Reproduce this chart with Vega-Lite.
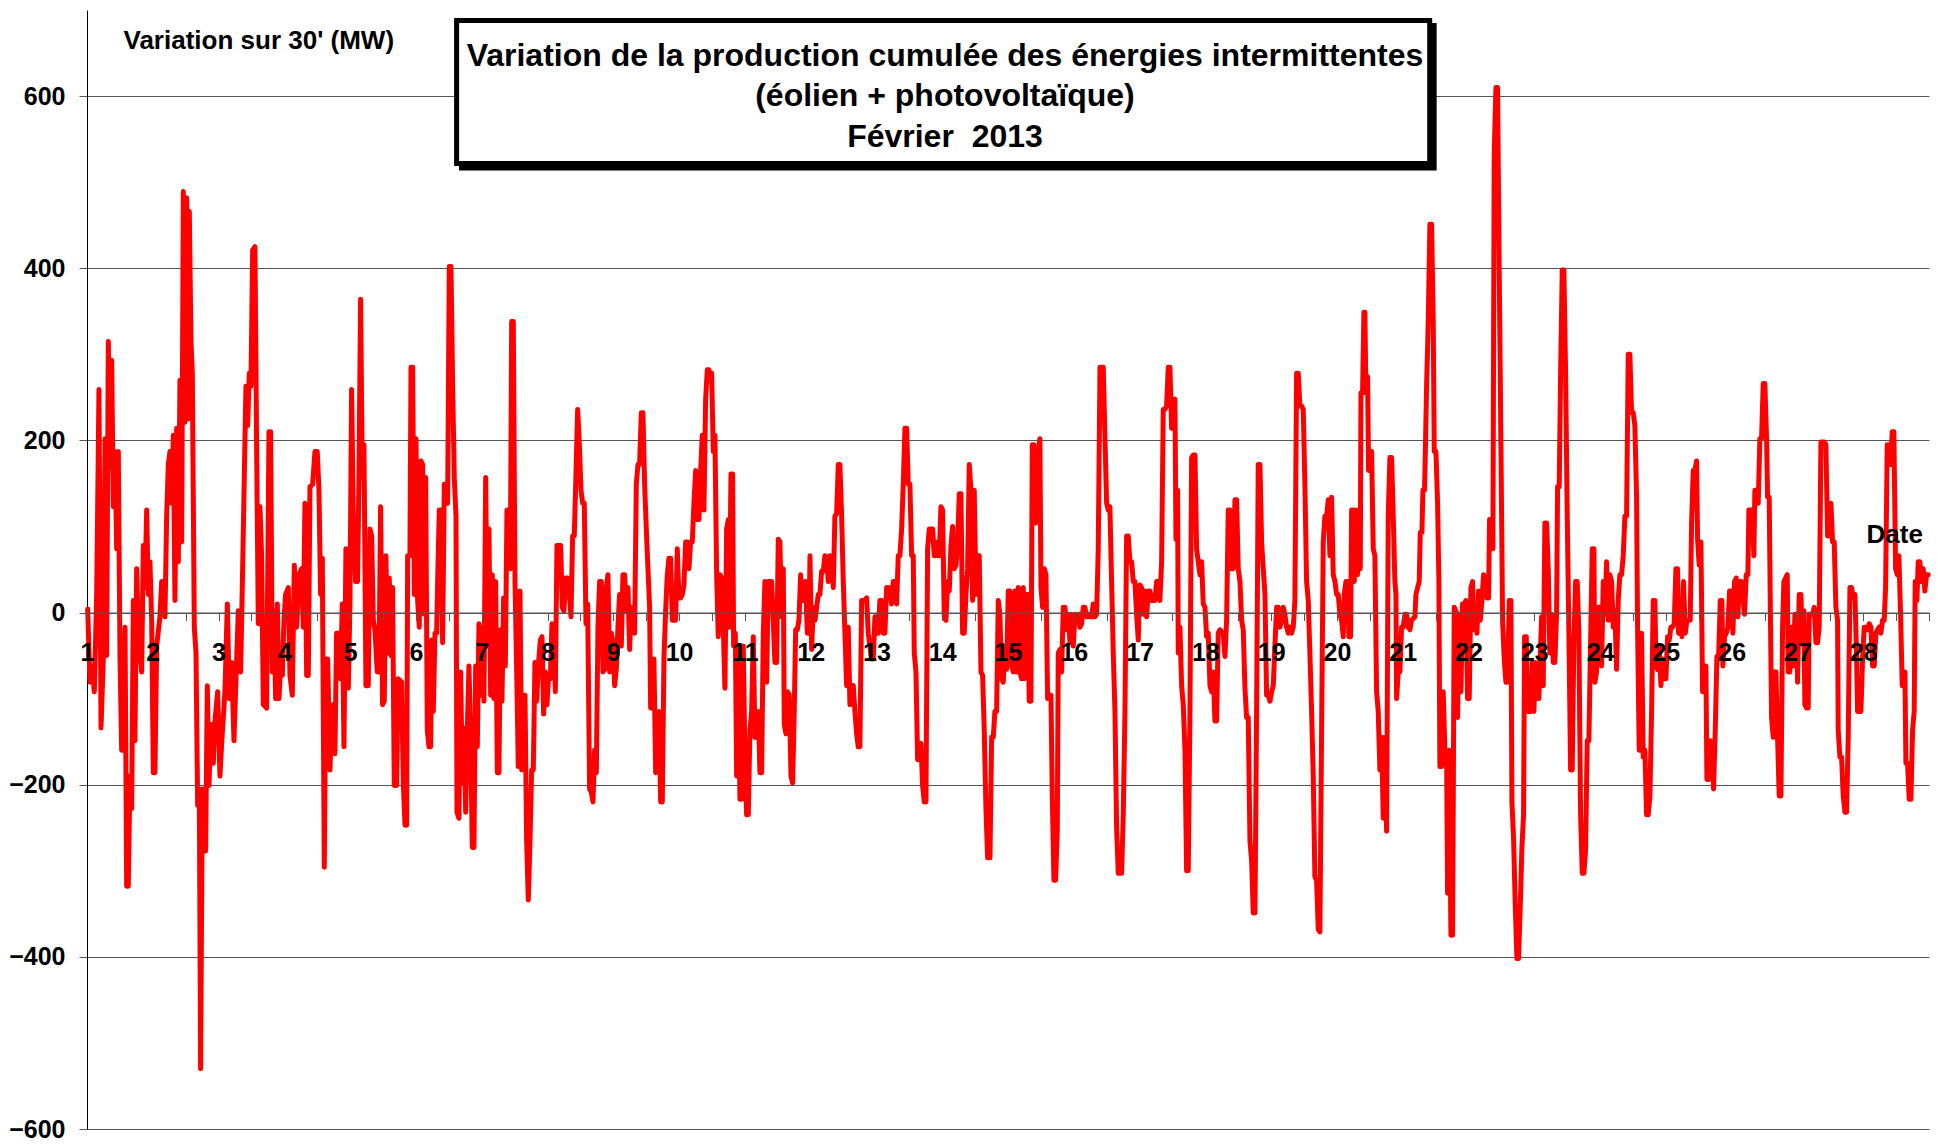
{
"$schema": "https://vega.github.io/schema/vega-lite/v6.json",
"width": 1842, "height": 1119,
"autosize": "none",
"padding": {"left": 87, "top": 10, "right": 8, "bottom": 15},
"background": "white",
"config": {"view": {"stroke": null}, "font": "Liberation Sans"},
"datasets": {
"box": [{"d": 6.618, "d2": 21.41, "v": 687.8, "v2": 521.7}],
"shadow": [{"d": 6.655, "d2": 21.516, "v": 684.9, "v2": 513.5}],
"titre": [
{"d": 14.042, "v": 635.5, "label": "Variation de la production cumulée des énergies intermittentes"},
{"d": 14.042, "v": 588.5, "label": "(éolien + photovoltaïque)"},
{"d": 14.042, "v": 540.8, "label": "Février\u00a0 2013"}
],
"serie": [
{"d":1.010,"v":4},{"d":1.046,"v":-81},{"d":1.081,"v":-62},{"d":1.111,"v":-92},{"d":1.147,"v":21},{"d":1.182,"v":259},{"d":1.213,"v":-134},{"d":1.248,"v":-54},{"d":1.274,"v":202},{"d":1.299,"v":-50},{"d":1.324,"v":315},{"d":1.350,"v":168},{"d":1.375,"v":293},{"d":1.400,"v":123},{"d":1.426,"v":187},{"d":1.451,"v":74},{"d":1.476,"v":187},{"d":1.502,"v":-54},{"d":1.527,"v":-160},{"d":1.552,"v":-160},{"d":1.578,"v":-17},{"d":1.603,"v":-318},{"d":1.628,"v":-318},{"d":1.653,"v":-190},{"d":1.679,"v":-228},{"d":1.704,"v":14},{"d":1.729,"v":-149},{"d":1.755,"v":51},{"d":1.780,"v":-24},{"d":1.831,"v":-69},{"d":1.856,"v":78},{"d":1.881,"v":29},{"d":1.907,"v":119},{"d":1.932,"v":21},{"d":1.957,"v":59},{"d":1.983,"v":-9},{"d":2.008,"v":-186},{"d":2.033,"v":-186},{"d":2.059,"v":-39},{"d":2.109,"v":-5},{"d":2.135,"v":36},{"d":2.185,"v":-5},{"d":2.211,"v":112},{"d":2.236,"v":172},{"d":2.261,"v":187},{"d":2.287,"v":127},{"d":2.312,"v":206},{"d":2.337,"v":14},{"d":2.363,"v":214},{"d":2.388,"v":59},{"d":2.413,"v":270},{"d":2.439,"v":82},{"d":2.464,"v":489},{"d":2.489,"v":221},{"d":2.515,"v":482},{"d":2.540,"v":225},{"d":2.555,"v":466},{"d":2.581,"v":315},{"d":2.601,"v":278},{"d":2.631,"v":-17},{"d":2.657,"v":-47},{"d":2.682,"v":-224},{"d":2.707,"v":-205},{"d":2.727,"v":-530},{"d":2.753,"v":-205},{"d":2.778,"v":-213},{"d":2.803,"v":-277},{"d":2.829,"v":-85},{"d":2.854,"v":-201},{"d":2.884,"v":-130},{"d":2.920,"v":-175},{"d":2.945,"v":-126},{"d":2.986,"v":-92},{"d":3.021,"v":-190},{"d":3.047,"v":-152},{"d":3.097,"v":-92},{"d":3.133,"v":10},{"d":3.163,"v":-100},{"d":3.199,"v":-58},{"d":3.234,"v":-149},{"d":3.275,"v":-54},{"d":3.300,"v":2},{"d":3.335,"v":-69},{"d":3.366,"v":51},{"d":3.391,"v":157},{"d":3.416,"v":263},{"d":3.442,"v":217},{"d":3.467,"v":278},{"d":3.492,"v":263},{"d":3.518,"v":421},{"d":3.553,"v":425},{"d":3.579,"v":187},{"d":3.604,"v":-13},{"d":3.629,"v":123},{"d":3.654,"v":66},{"d":3.680,"v":-107},{"d":3.730,"v":-111},{"d":3.766,"v":210},{"d":3.791,"v":210},{"d":3.817,"v":-69},{"d":3.842,"v":2},{"d":3.867,"v":-100},{"d":3.893,"v":10},{"d":3.918,"v":-100},{"d":3.943,"v":-62},{"d":3.969,"v":-73},{"d":3.994,"v":-9},{"d":4.019,"v":21},{"d":4.060,"v":29},{"d":4.085,"v":-73},{"d":4.121,"v":-96},{"d":4.151,"v":55},{"d":4.187,"v":-17},{"d":4.222,"v":44},{"d":4.262,"v":51},{"d":4.288,"v":-17},{"d":4.313,"v":127},{"d":4.339,"v":-73},{"d":4.364,"v":-73},{"d":4.389,"v":146},{"d":4.430,"v":149},{"d":4.465,"v":187},{"d":4.500,"v":187},{"d":4.526,"v":142},{"d":4.551,"v":21},{"d":4.577,"v":63},{"d":4.607,"v":-296},{"d":4.632,"v":-54},{"d":4.658,"v":-54},{"d":4.693,"v":-183},{"d":4.729,"v":-107},{"d":4.769,"v":-164},{"d":4.794,"v":-24},{"d":4.830,"v":-24},{"d":4.855,"v":-77},{"d":4.880,"v":10},{"d":4.906,"v":-156},{"d":4.936,"v":74},{"d":4.972,"v":-88},{"d":4.997,"v":10},{"d":5.022,"v":259},{"d":5.048,"v":112},{"d":5.083,"v":36},{"d":5.113,"v":36},{"d":5.134,"v":157},{"d":5.159,"v":364},{"d":5.185,"v":157},{"d":5.210,"v":195},{"d":5.240,"v":-85},{"d":5.276,"v":-85},{"d":5.301,"v":97},{"d":5.327,"v":89},{"d":5.352,"v":-9},{"d":5.377,"v":-20},{"d":5.412,"v":-69},{"d":5.438,"v":-69},{"d":5.463,"v":123},{"d":5.493,"v":-107},{"d":5.519,"v":-103},{"d":5.544,"v":66},{"d":5.569,"v":-47},{"d":5.595,"v":40},{"d":5.620,"v":-50},{"d":5.645,"v":29},{"d":5.671,"v":-201},{"d":5.706,"v":-201},{"d":5.731,"v":-77},
{"d":5.783,"v":-81},{"d":5.808,"v":-198},{"d":5.834,"v":-247},{"d":5.859,"v":-247},{"d":5.874,"v":66},{"d":5.909,"v":66},{"d":5.925,"v":285},{"d":5.950,"v":285},{"d":5.975,"v":21},{"d":6.001,"v":202},{"d":6.026,"v":14},{"d":6.051,"v":-17},{"d":6.077,"v":176},{"d":6.102,"v":172},{"d":6.127,"v":-2},{"d":6.148,"v":157},{"d":6.173,"v":-137},{"d":6.198,"v":-156},{"d":6.224,"v":-156},{"d":6.239,"v":-32},{"d":6.264,"v":-115},{"d":6.290,"v":-24},{"d":6.315,"v":-24},{"d":6.330,"v":36},{"d":6.355,"v":119},{"d":6.381,"v":119},{"d":6.406,"v":-35},{"d":6.431,"v":149},{"d":6.457,"v":149},{"d":6.482,"v":127},{"d":6.507,"v":402},{"d":6.533,"v":402},{"d":6.558,"v":263},{"d":6.583,"v":157},{"d":6.609,"v":112},{"d":6.624,"v":-232},{"d":6.654,"v":-239},{"d":6.680,"v":-69},{"d":6.705,"v":-198},{"d":6.730,"v":-134},{"d":6.756,"v":-232},{"d":6.781,"v":-137},{"d":6.806,"v":-62},{"d":6.832,"v":-145},{"d":6.857,"v":-273},{"d":6.882,"v":-273},{"d":6.908,"v":-62},{"d":6.933,"v":-156},{"d":6.958,"v":-13},{"d":6.984,"v":-96},{"d":7.009,"v":-17},{"d":7.034,"v":-103},{"d":7.060,"v":157},{"d":7.085,"v":-39},{"d":7.110,"v":97},{"d":7.136,"v":-96},{"d":7.161,"v":44},{"d":7.186,"v":-100},{"d":7.212,"v":36},{"d":7.237,"v":-186},{"d":7.262,"v":-186},{"d":7.283,"v":-20},{"d":7.308,"v":-103},{"d":7.333,"v":17},{"d":7.359,"v":-62},{"d":7.384,"v":119},{"d":7.409,"v":119},{"d":7.435,"v":51},{"d":7.455,"v":338},{"d":7.480,"v":338},{"d":7.506,"v":36},{"d":7.531,"v":-66},{"d":7.556,"v":-179},{"d":7.582,"v":25},{"d":7.607,"v":-183},{"d":7.632,"v":-100},{"d":7.658,"v":-96},{"d":7.683,"v":-266},{"d":7.708,"v":-334},{"d":7.734,"v":-266},{"d":7.759,"v":-183},{"d":7.784,"v":-183},{"d":7.809,"v":-58},{"d":7.835,"v":-103},{"d":7.860,"v":-62},{"d":7.891,"v":-32},{"d":7.916,"v":-28},{"d":7.941,"v":-118},{"d":7.967,"v":-69},{"d":7.992,"v":-107},{"d":8.017,"v":-73},{"d":8.043,"v":-77},{"d":8.068,"v":-13},{"d":8.093,"v":-17},{"d":8.119,"v":-92},{"d":8.144,"v":78},{"d":8.174,"v":78},{"d":8.200,"v":78},{"d":8.225,"v":6},{"d":8.250,"v":2},{"d":8.276,"v":40},{"d":8.301,"v":40},{"d":8.326,"v":29},{"d":8.357,"v":-5},{"d":8.382,"v":89},{"d":8.407,"v":89},{"d":8.433,"v":161},{"d":8.458,"v":236},{"d":8.483,"v":198},{"d":8.509,"v":142},{"d":8.534,"v":127},{"d":8.559,"v":127},{"d":8.585,"v":-13},{"d":8.610,"v":10},{"d":8.640,"v":-205},{"d":8.666,"v":-209},{"d":8.691,"v":-220},{"d":8.716,"v":-160},{"d":8.742,"v":-186},{"d":8.767,"v":-17},{"d":8.792,"v":36},{"d":8.818,"v":36},{"d":8.843,"v":-69},{"d":8.868,"v":-66},{"d":8.894,"v":29},{"d":8.919,"v":44},{"d":8.944,"v":-69},{"d":8.970,"v":-24},{"d":8.995,"v":-35},{"d":9.020,"v":-85},{"d":9.046,"v":-66},{"d":9.071,"v":-17},{"d":9.096,"v":21},{"d":9.122,"v":-39},{"d":9.147,"v":44},{"d":9.172,"v":44},{"d":9.198,"v":2},{"d":9.223,"v":29},{"d":9.248,"v":-43},{"d":9.274,"v":6},{"d":9.299,"v":6},{"d":9.324,"v":-24},{"d":9.350,"v":149},{"d":9.375,"v":172},{"d":9.400,"v":172},{"d":9.426,"v":232},{"d":9.451,"v":232},{"d":9.476,"v":149},{"d":9.502,"v":97},{"d":9.527,"v":51},{"d":9.552,"v":6},{"d":9.568,"v":-111},{"d":9.593,"v":-111},{"d":9.618,"v":-54},{"d":9.644,"v":-186},{"d":9.669,"v":-118},{"d":9.694,"v":-115},{"d":9.720,"v":-220},{"d":9.745,"v":-220},{"d":9.770,"v":-54},{"d":9.796,"v":2},{"d":9.821,"v":44},{"d":9.846,"v":63},{"d":9.872,"v":63},{"d":9.897,"v":-9},{"d":9.922,"v":21},{"d":9.948,"v":-9},{"d":9.973,"v":74},{"d":9.998,"v":17},{"d":10.024,"v":17},{"d":10.049,"v":21},{"d":10.074,"v":32},{"d":10.100,"v":82},{"d":10.125,"v":82},{"d":10.150,"v":51},{"d":10.176,"v":82},{"d":10.201,"v":82},{"d":10.226,"v":127},{"d":10.252,"v":165},{"d":10.277,"v":108},{"d":10.302,"v":108},{"d":10.328,"v":165},{"d":10.353,"v":206},{"d":10.378,"v":119},{"d":10.404,"v":248},{"d":10.429,"v":282},{"d":10.454,"v":282},
{"d":10.469,"v":270},{"d":10.495,"v":278},{"d":10.520,"v":187},{"d":10.545,"v":206},{"d":10.571,"v":44},{"d":10.596,"v":-28},{"d":10.621,"v":44},{"d":10.647,"v":40},{"d":10.672,"v":-17},{"d":10.697,"v":-88},{"d":10.723,"v":97},{"d":10.748,"v":108},{"d":10.763,"v":-17},{"d":10.789,"v":161},{"d":10.814,"v":161},{"d":10.829,"v":-39},{"d":10.855,"v":-24},{"d":10.875,"v":-190},{"d":10.900,"v":-58},{"d":10.925,"v":-217},{"d":10.951,"v":-217},{"d":10.976,"v":-39},{"d":11.001,"v":-168},{"d":11.027,"v":-235},{"d":11.052,"v":-235},{"d":11.077,"v":-137},{"d":11.103,"v":-115},{"d":11.128,"v":-28},{"d":11.153,"v":-145},{"d":11.179,"v":-145},{"d":11.204,"v":-115},{"d":11.229,"v":-186},{"d":11.255,"v":-186},{"d":11.280,"v":-24},{"d":11.305,"v":36},{"d":11.331,"v":-81},{"d":11.356,"v":36},{"d":11.407,"v":36},{"d":11.457,"v":-58},{"d":11.483,"v":-58},{"d":11.508,"v":85},{"d":11.533,"v":82},{"d":11.559,"v":-5},{"d":11.584,"v":51},{"d":11.599,"v":-130},{"d":11.625,"v":-141},{"d":11.650,"v":-92},{"d":11.675,"v":-96},{"d":11.701,"v":-190},{"d":11.726,"v":-198},{"d":11.751,"v":-115},{"d":11.772,"v":-20},{"d":11.797,"v":-20},{"d":11.822,"v":-9},{"d":11.848,"v":44},{"d":11.873,"v":14},{"d":11.898,"v":14},{"d":11.924,"v":36},{"d":11.949,"v":-24},{"d":11.974,"v":-24},{"d":11.990,"v":66},{"d":12.015,"v":-43},{"d":12.040,"v":6},{"d":12.066,"v":-9},{"d":12.091,"v":6},{"d":12.116,"v":21},{"d":12.141,"v":21},{"d":12.167,"v":48},{"d":12.192,"v":48},{"d":12.217,"v":66},{"d":12.243,"v":63},{"d":12.268,"v":36},{"d":12.293,"v":66},{"d":12.319,"v":63},{"d":12.344,"v":29},{"d":12.369,"v":112},{"d":12.395,"v":115},{"d":12.420,"v":172},{"d":12.445,"v":172},{"d":12.471,"v":112},{"d":12.496,"v":36},{"d":12.521,"v":-24},{"d":12.547,"v":-85},{"d":12.572,"v":-17},{"d":12.597,"v":-107},{"d":12.623,"v":-88},{"d":12.648,"v":-85},{"d":12.673,"v":-115},{"d":12.699,"v":-141},{"d":12.724,"v":-156},{"d":12.749,"v":-156},{"d":12.775,"v":14},{"d":12.800,"v":14},{"d":12.825,"v":14},{"d":12.851,"v":17},{"d":12.876,"v":-24},{"d":12.901,"v":-39},{"d":12.927,"v":-54},{"d":12.952,"v":-54},{"d":12.977,"v":-5},{"d":13.003,"v":-5},{"d":13.028,"v":-24},{"d":13.053,"v":14},{"d":13.079,"v":14},{"d":13.104,"v":-24},{"d":13.129,"v":-24},{"d":13.155,"v":29},{"d":13.180,"v":21},{"d":13.205,"v":29},{"d":13.231,"v":10},{"d":13.256,"v":36},{"d":13.281,"v":36},{"d":13.307,"v":10},{"d":13.332,"v":66},{"d":13.357,"v":66},{"d":13.383,"v":97},{"d":13.408,"v":149},{"d":13.433,"v":214},{"d":13.459,"v":214},{"d":13.484,"v":149},{"d":13.509,"v":149},{"d":13.535,"v":66},{"d":13.560,"v":66},{"d":13.575,"v":-47},{"d":13.601,"v":-69},{"d":13.626,"v":-171},{"d":13.651,"v":-171},{"d":13.677,"v":-152},{"d":13.702,"v":-201},{"d":13.727,"v":-220},{"d":13.753,"v":-220},{"d":13.778,"v":74},{"d":13.803,"v":97},{"d":13.854,"v":97},{"d":13.879,"v":66},{"d":13.905,"v":66},{"d":13.930,"v":82},{"d":13.955,"v":66},{"d":13.981,"v":123},{"d":14.006,"v":119},{"d":14.031,"v":-5},{"d":14.057,"v":-9},{"d":14.082,"v":36},{"d":14.107,"v":25},{"d":14.133,"v":78},{"d":14.158,"v":100},{"d":14.183,"v":51},{"d":14.209,"v":55},{"d":14.234,"v":82},{"d":14.259,"v":138},{"d":14.285,"v":138},{"d":14.310,"v":-24},{"d":14.335,"v":-24},{"d":14.361,"v":21},{"d":14.386,"v":51},{"d":14.411,"v":172},{"d":14.437,"v":142},{"d":14.462,"v":14},{"d":14.487,"v":142},{"d":14.513,"v":21},{"d":14.538,"v":66},{"d":14.563,"v":66},{"d":14.589,"v":-69},{"d":14.614,"v":-73},{"d":14.639,"v":-137},{"d":14.665,"v":-228},{"d":14.690,"v":-285},{"d":14.726,"v":-285},{"d":14.751,"v":-145},{"d":14.776,"v":-145},{"d":14.801,"v":-115},{"d":14.827,"v":-115},{"d":14.852,"v":14},{"d":14.877,"v":-2},{"d":14.903,"v":-77},{"d":14.928,"v":-81},{"d":14.953,"v":-39},{"d":14.979,"v":-66},{"d":15.004,"v":25},{"d":15.029,"v":25},{"d":15.055,"v":-62},{"d":15.080,"v":-69},{"d":15.105,"v":25},{"d":15.131,"v":-69},{"d":15.156,"v":29},
{"d":15.181,"v":-69},{"d":15.207,"v":-77},{"d":15.232,"v":29},{"d":15.247,"v":-77},{"d":15.273,"v":21},{"d":15.298,"v":21},{"d":15.323,"v":-103},{"d":15.349,"v":-103},{"d":15.369,"v":195},{"d":15.394,"v":195},{"d":15.420,"v":104},{"d":15.435,"v":187},{"d":15.460,"v":187},{"d":15.485,"v":202},{"d":15.501,"v":29},{"d":15.526,"v":6},{"d":15.551,"v":51},{"d":15.577,"v":44},{"d":15.602,"v":-100},{"d":15.627,"v":-100},{"d":15.653,"v":-96},{"d":15.673,"v":-213},{"d":15.698,"v":-311},{"d":15.724,"v":-311},{"d":15.749,"v":-254},{"d":15.764,"v":-47},{"d":15.789,"v":-43},{"d":15.815,"v":-69},{"d":15.840,"v":6},{"d":15.866,"v":6},{"d":15.891,"v":-20},{"d":15.916,"v":-2},{"d":15.942,"v":-35},{"d":15.967,"v":-2},{"d":15.992,"v":-39},{"d":16.018,"v":-2},{"d":16.043,"v":-9},{"d":16.068,"v":-2},{"d":16.093,"v":-17},{"d":16.119,"v":-13},{"d":16.144,"v":6},{"d":16.169,"v":6},{"d":16.195,"v":-5},{"d":16.220,"v":-5},{"d":16.245,"v":-2},{"d":16.271,"v":-5},{"d":16.296,"v":10},{"d":16.321,"v":-5},{"d":16.347,"v":-2},{"d":16.372,"v":74},{"d":16.398,"v":285},{"d":16.448,"v":285},{"d":16.474,"v":202},{"d":16.499,"v":127},{"d":16.524,"v":119},{"d":16.549,"v":123},{"d":16.575,"v":36},{"d":16.600,"v":-47},{"d":16.626,"v":-115},{"d":16.651,"v":-251},{"d":16.676,"v":-303},{"d":16.727,"v":-303},{"d":16.752,"v":-235},{"d":16.778,"v":-115},{"d":16.803,"v":89},{"d":16.828,"v":89},{"d":16.853,"v":59},{"d":16.879,"v":59},{"d":16.904,"v":36},{"d":16.929,"v":36},{"d":16.955,"v":-2},{"d":16.980,"v":-32},{"d":17.005,"v":32},{"d":17.031,"v":29},{"d":17.056,"v":-2},{"d":17.081,"v":25},{"d":17.107,"v":-5},{"d":17.132,"v":25},{"d":17.157,"v":25},{"d":17.183,"v":14},{"d":17.233,"v":14},{"d":17.259,"v":36},{"d":17.284,"v":36},{"d":17.309,"v":14},{"d":17.335,"v":59},{"d":17.360,"v":236},{"d":17.385,"v":236},{"d":17.411,"v":240},{"d":17.436,"v":285},{"d":17.462,"v":285},{"d":17.487,"v":214},{"d":17.512,"v":240},{"d":17.538,"v":248},{"d":17.553,"v":85},{"d":17.578,"v":142},{"d":17.588,"v":-47},{"d":17.614,"v":-17},{"d":17.639,"v":-85},{"d":17.664,"v":-107},{"d":17.690,"v":-160},{"d":17.715,"v":-300},{"d":17.740,"v":-300},{"d":17.766,"v":-115},{"d":17.791,"v":180},{"d":17.816,"v":183},{"d":17.842,"v":183},{"d":17.867,"v":74},{"d":17.892,"v":59},{"d":17.918,"v":44},{"d":17.943,"v":59},{"d":17.968,"v":10},{"d":17.994,"v":6},{"d":18.019,"v":-28},{"d":18.044,"v":-24},{"d":18.070,"v":-85},{"d":18.095,"v":-92},{"d":18.120,"v":-69},{"d":18.145,"v":-126},{"d":18.171,"v":-126},{"d":18.196,"v":-24},{"d":18.221,"v":-20},{"d":18.272,"v":-24},{"d":18.298,"v":-51},{"d":18.323,"v":-9},{"d":18.348,"v":119},{"d":18.374,"v":119},{"d":18.399,"v":51},{"d":18.424,"v":51},{"d":18.450,"v":131},{"d":18.475,"v":131},{"d":18.500,"v":51},{"d":18.526,"v":36},{"d":18.551,"v":-9},{"d":18.576,"v":-20},{"d":18.602,"v":-88},{"d":18.627,"v":-122},{"d":18.652,"v":-122},{"d":18.678,"v":-266},{"d":18.703,"v":-288},{"d":18.728,"v":-349},{"d":18.754,"v":-349},{"d":18.779,"v":-115},{"d":18.804,"v":172},{"d":18.830,"v":172},{"d":18.855,"v":82},{"d":18.880,"v":51},{"d":18.906,"v":21},{"d":18.931,"v":-96},{"d":18.956,"v":-96},{"d":18.982,"v":-103},{"d":19.007,"v":-92},{"d":19.032,"v":-85},{"d":19.057,"v":-39},{"d":19.083,"v":6},{"d":19.108,"v":6},{"d":19.133,"v":-17},{"d":19.159,"v":-9},{"d":19.184,"v":6},{"d":19.209,"v":-2},{"d":19.235,"v":-17},{"d":19.260,"v":-24},{"d":19.286,"v":-17},{"d":19.311,"v":-24},{"d":19.336,"v":-17},{"d":19.361,"v":14},{"d":19.387,"v":278},{"d":19.412,"v":278},{"d":19.437,"v":240},{"d":19.463,"v":240},{"d":19.488,"v":236},{"d":19.513,"v":149},{"d":19.539,"v":36},{"d":19.564,"v":14},{"d":19.589,"v":-47},{"d":19.615,"v":-115},{"d":19.640,"v":-190},{"d":19.665,"v":-307},{"d":19.691,"v":-311},{"d":19.716,"v":-368},{"d":19.741,"v":-371},{"d":19.767,"v":-137},{"d":19.792,"v":82},{"d":19.817,"v":112},{"d":19.843,"v":112},{"d":19.868,"v":131},{"d":19.893,"v":66},
{"d":19.919,"v":134},{"d":19.944,"v":44},{"d":19.970,"v":36},{"d":19.995,"v":21},{"d":20.020,"v":21},{"d":20.045,"v":-2},{"d":20.071,"v":-9},{"d":20.096,"v":-28},{"d":20.111,"v":21},{"d":20.137,"v":36},{"d":20.162,"v":36},{"d":20.182,"v":-28},{"d":20.208,"v":-28},{"d":20.223,"v":119},{"d":20.248,"v":119},{"d":20.263,"v":36},{"d":20.289,"v":119},{"d":20.314,"v":44},{"d":20.339,"v":119},{"d":20.355,"v":51},{"d":20.365,"v":255},{"d":20.390,"v":255},{"d":20.410,"v":349},{"d":20.425,"v":349},{"d":20.441,"v":255},{"d":20.466,"v":274},{"d":20.481,"v":165},{"d":20.501,"v":187},{"d":20.527,"v":187},{"d":20.552,"v":74},{"d":20.577,"v":66},{"d":20.603,"v":-92},{"d":20.628,"v":-115},{"d":20.653,"v":-183},{"d":20.679,"v":-145},{"d":20.704,"v":-239},{"d":20.729,"v":-145},{"d":20.755,"v":-254},{"d":20.780,"v":112},{"d":20.805,"v":180},{"d":20.831,"v":180},{"d":20.856,"v":112},{"d":20.881,"v":36},{"d":20.897,"v":21},{"d":20.907,"v":-100},{"d":20.932,"v":-69},{"d":20.957,"v":-69},{"d":20.983,"v":-17},{"d":21.008,"v":-17},{"d":21.033,"v":-2},{"d":21.059,"v":-2},{"d":21.084,"v":-17},{"d":21.109,"v":-20},{"d":21.135,"v":-9},{"d":21.185,"v":-5},{"d":21.201,"v":21},{"d":21.226,"v":29},{"d":21.251,"v":36},{"d":21.267,"v":93},{"d":21.292,"v":93},{"d":21.307,"v":142},{"d":21.332,"v":142},{"d":21.348,"v":202},{"d":21.363,"v":263},{"d":21.388,"v":338},{"d":21.413,"v":451},{"d":21.439,"v":451},{"d":21.464,"v":338},{"d":21.479,"v":187},{"d":21.505,"v":187},{"d":21.530,"v":127},{"d":21.550,"v":36},{"d":21.565,"v":-179},{"d":21.591,"v":-179},{"d":21.616,"v":-92},{"d":21.641,"v":-160},{"d":21.667,"v":-164},{"d":21.682,"v":-326},{"d":21.707,"v":-160},{"d":21.733,"v":-375},{"d":21.758,"v":-375},{"d":21.783,"v":6},{"d":21.809,"v":2},{"d":21.834,"v":-122},{"d":21.859,"v":-2},{"d":21.885,"v":-92},{"d":21.910,"v":10},{"d":21.935,"v":10},{"d":21.961,"v":14},{"d":21.986,"v":-100},{"d":22.011,"v":-100},{"d":22.037,"v":29},{"d":22.062,"v":36},{"d":22.077,"v":-20},{"d":22.103,"v":2},{"d":22.128,"v":-24},{"d":22.153,"v":25},{"d":22.179,"v":-9},{"d":22.204,"v":14},{"d":22.229,"v":44},{"d":22.254,"v":40},{"d":22.280,"v":17},{"d":22.305,"v":17},{"d":22.320,"v":108},{"d":22.346,"v":74},{"d":22.371,"v":74},{"d":22.391,"v":534},{"d":22.417,"v":610},{"d":22.442,"v":610},{"d":22.467,"v":398},{"d":22.493,"v":195},{"d":22.518,"v":-9},{"d":22.543,"v":-54},{"d":22.569,"v":-81},{"d":22.594,"v":-81},{"d":22.619,"v":14},{"d":22.645,"v":14},{"d":22.660,"v":-220},{"d":22.685,"v":-262},{"d":22.711,"v":-341},{"d":22.736,"v":-402},{"d":22.761,"v":-402},{"d":22.787,"v":-341},{"d":22.812,"v":-273},{"d":22.837,"v":-235},{"d":22.852,"v":-28},{"d":22.878,"v":-28},{"d":22.893,"v":-115},{"d":22.944,"v":-115},{"d":22.969,"v":-58},{"d":22.994,"v":-115},{"d":23.020,"v":-58},{"d":23.045,"v":-100},{"d":23.070,"v":-100},{"d":23.085,"v":-66},{"d":23.111,"v":-5},{"d":23.136,"v":-85},{"d":23.161,"v":104},{"d":23.187,"v":104},{"d":23.212,"v":51},{"d":23.237,"v":-47},{"d":23.263,"v":-2},{"d":23.288,"v":-58},{"d":23.313,"v":-58},{"d":23.339,"v":-2},{"d":23.354,"v":146},{"d":23.379,"v":146},{"d":23.400,"v":278},{"d":23.425,"v":398},{"d":23.450,"v":398},{"d":23.476,"v":278},{"d":23.501,"v":112},{"d":23.526,"v":-24},{"d":23.552,"v":-183},{"d":23.577,"v":-183},{"d":23.602,"v":-32},{"d":23.628,"v":36},{"d":23.653,"v":36},{"d":23.678,"v":-24},{"d":23.704,"v":-235},{"d":23.729,"v":-303},{"d":23.754,"v":-303},{"d":23.779,"v":-277},{"d":23.805,"v":-149},{"d":23.830,"v":-149},{"d":23.855,"v":-39},{"d":23.881,"v":74},{"d":23.906,"v":74},{"d":23.921,"v":-81},{"d":23.947,"v":-69},{"d":23.972,"v":6},{"d":23.997,"v":6},{"d":24.023,"v":-62},{"d":24.048,"v":36},{"d":24.073,"v":-2},{"d":24.099,"v":59},{"d":24.124,"v":-9},{"d":24.149,"v":44},{"d":24.175,"v":36},{"d":24.200,"v":-17},{"d":24.225,"v":2},{"d":24.251,"v":-66},{"d":24.276,"v":14},{"d":24.301,"v":44},{"d":24.327,"v":44},{"d":24.352,"v":66},{"d":24.377,"v":112},{"d":24.403,"v":112},{"d":24.428,"v":300},{"d":24.453,"v":300},{"d":24.479,"v":232},{"d":24.504,"v":232},{"d":24.529,"v":217},{"d":24.555,"v":134},{"d":24.570,"v":-17},{"d":24.595,"v":-160},
{"d":24.605,"v":-160},{"d":24.631,"v":-24},{"d":24.656,"v":-168},{"d":24.681,"v":-160},{"d":24.707,"v":-235},{"d":24.732,"v":-235},{"d":24.758,"v":-213},{"d":24.783,"v":-115},{"d":24.808,"v":14},{"d":24.834,"v":14},{"d":24.849,"v":-62},{"d":24.874,"v":-66},{"d":24.899,"v":-39},{"d":24.925,"v":-85},{"d":24.950,"v":-54},{"d":24.975,"v":-77},{"d":25.001,"v":-77},{"d":25.026,"v":-28},{"d":25.051,"v":-32},{"d":25.077,"v":-17},{"d":25.102,"v":-17},{"d":25.127,"v":-13},{"d":25.153,"v":51},{"d":25.178,"v":51},{"d":25.193,"v":-24},{"d":25.219,"v":-2},{"d":25.244,"v":-28},{"d":25.269,"v":36},{"d":25.295,"v":-24},{"d":25.320,"v":-9},{"d":25.371,"v":-9},{"d":25.391,"v":104},{"d":25.416,"v":165},{"d":25.441,"v":165},{"d":25.467,"v":176},{"d":25.482,"v":85},{"d":25.507,"v":55},{"d":25.533,"v":82},{"d":25.558,"v":-92},{"d":25.583,"v":-92},{"d":25.609,"v":-62},{"d":25.624,"v":-194},{"d":25.649,"v":-194},{"d":25.675,"v":-149},{"d":25.700,"v":-152},{"d":25.725,"v":-205},{"d":25.751,"v":-137},{"d":25.776,"v":-51},{"d":25.801,"v":-54},{"d":25.827,"v":14},{"d":25.852,"v":14},{"d":25.867,"v":-62},{"d":25.892,"v":-28},{"d":25.918,"v":-24},{"d":25.943,"v":-17},{"d":25.968,"v":25},{"d":25.994,"v":25},{"d":26.019,"v":-24},{"d":26.044,"v":36},{"d":26.070,"v":40},{"d":26.095,"v":-5},{"d":26.120,"v":36},{"d":26.146,"v":36},{"d":26.171,"v":21},{"d":26.196,"v":-2},{"d":26.222,"v":44},{"d":26.247,"v":44},{"d":26.262,"v":119},{"d":26.313,"v":119},{"d":26.338,"v":66},{"d":26.353,"v":142},{"d":26.379,"v":142},{"d":26.404,"v":127},{"d":26.429,"v":202},{"d":26.455,"v":202},{"d":26.480,"v":266},{"d":26.505,"v":266},{"d":26.531,"v":202},{"d":26.546,"v":134},{"d":26.571,"v":134},{"d":26.587,"v":14},{"d":26.607,"v":-122},{"d":26.632,"v":-145},{"d":26.647,"v":-69},{"d":26.673,"v":-69},{"d":26.698,"v":-145},{"d":26.723,"v":-213},{"d":26.749,"v":-213},{"d":26.774,"v":-17},{"d":26.794,"v":36},{"d":26.820,"v":40},{"d":26.845,"v":44},{"d":26.860,"v":-69},{"d":26.885,"v":-69},{"d":26.911,"v":-17},{"d":26.936,"v":-62},{"d":26.962,"v":-2},{"d":26.987,"v":-2},{"d":27.002,"v":-81},{"d":27.027,"v":21},{"d":27.053,"v":21},{"d":27.073,"v":-35},{"d":27.098,"v":2},{"d":27.113,"v":-107},{"d":27.139,"v":-111},{"d":27.164,"v":-111},{"d":27.179,"v":-2},{"d":27.230,"v":-2},{"d":27.255,"v":6},{"d":27.281,"v":-35},{"d":27.306,"v":-35},{"d":27.331,"v":-17},{"d":27.357,"v":198},{"d":27.407,"v":198},{"d":27.433,"v":195},{"d":27.458,"v":89},{"d":27.483,"v":89},{"d":27.509,"v":127},{"d":27.534,"v":82},{"d":27.559,"v":82},{"d":27.585,"v":6},{"d":27.610,"v":-9},{"d":27.620,"v":-137},{"d":27.646,"v":-168},{"d":27.671,"v":-168},{"d":27.696,"v":-213},{"d":27.722,"v":-232},{"d":27.747,"v":-232},{"d":27.772,"v":-145},{"d":27.798,"v":29},{"d":27.823,"v":29},{"d":27.848,"v":17},{"d":27.874,"v":21},{"d":27.899,"v":-51},{"d":27.914,"v":-115},{"d":27.965,"v":-115},{"d":27.990,"v":-54},{"d":28.015,"v":-17},{"d":28.041,"v":-17},{"d":28.066,"v":-20},{"d":28.091,"v":-13},{"d":28.117,"v":-17},{"d":28.142,"v":-62},{"d":28.167,"v":-62},{"d":28.193,"v":-24},{"d":28.218,"v":-20},{"d":28.243,"v":-17},{"d":28.268,"v":-24},{"d":28.294,"v":-9},{"d":28.319,"v":-9},{"d":28.340,"v":29},{"d":28.365,"v":195},{"d":28.390,"v":195},{"d":28.416,"v":172},{"d":28.441,"v":210},{"d":28.466,"v":210},{"d":28.492,"v":51},{"d":28.517,"v":44},{"d":28.542,"v":66},{"d":28.568,"v":-2},{"d":28.593,"v":-85},{"d":28.618,"v":-85},{"d":28.634,"v":-69},{"d":28.649,"v":-175},{"d":28.674,"v":-175},{"d":28.699,"v":-217},{"d":28.725,"v":-217},{"d":28.750,"v":-137},{"d":28.775,"v":-115},{"d":28.790,"v":36},{"d":28.816,"v":14},{"d":28.836,"v":59},{"d":28.861,"v":59},{"d":28.887,"v":36},{"d":28.912,"v":51},{"d":28.937,"v":25},{"d":28.963,"v":44},{"d":28.988,"v":44}
]
},
"encoding": {
"x": {"field": "d", "type": "quantitative",
 "scale": {"domain": [1, 29], "nice": false, "zero": false},
 "axis": {"title": "Date", "titleX": 1779, "titleY": -70, "titleAlign": "left", "titleAnchor": null, "titleBaseline": "alphabetic", "titleFont": "Liberation Sans", "titleFontSize": 26, "titleFontWeight": "bold", "titleColor": "black",
  "offset": -516.5, "grid": false, "zindex": 2,
  "values": [1,1.5,2,2.5,3,3.5,4,4.5,5,5.5,6,6.5,7,7.5,8,8.5,9,9.5,10,10.5,11,11.5,12,12.5,13,13.5,14,14.5,15,15.5,16,16.5,17,17.5,18,18.5,19,19.5,20,20.5,21,21.5,22,22.5,23,23.5,24,24.5,25,25.5,26,26.5,27,27.5,28,28.5,29],
  "labelExpr": "(datum.value % 1 == 0 && datum.value < 29) ? format(datum.value, 'd') : ''",
  "labelFont": "Liberation Sans", "labelFontSize": 25, "labelFontWeight": "bold", "labelColor": "black",
  "labelPadding": 20, "labelOverlap": false, "labelFlush": false, "labelBaseline": "top",
  "tickSize": 8, "tickColor": "#555555", "domainColor": "#555555", "domainWidth": 1}},
"y": {"field": "v", "type": "quantitative",
 "scale": {"domain": [-600, 700], "nice": false, "zero": false},
 "axis": {"title": "Variation sur 30' (MW)", "titleAngle": 0, "titleAlign": "left", "titleAnchor": null, "titleBaseline": "alphabetic", "titleX": 36, "titleY": 38, "titleFont": "Liberation Sans", "titleFontSize": 26, "titleFontWeight": "bold", "titleColor": "black",
  "values": [-600, -400, -200, 0, 200, 400, 600], "format": "d",
  "labelFont": "Liberation Sans", "labelFontSize": 25, "labelFontWeight": "bold", "labelColor": "black", "labelPadding": 14,
  "tickSize": 8, "tickColor": "#555555", "domainColor": "black", "domainWidth": 1,
  "grid": true, "gridColor": "#555555", "gridWidth": 1}}
},
"layer": [
{"data": {"name": "serie"}, "mark": {"type": "line", "color": "#FF0000", "strokeWidth": 5, "strokeJoin": "round", "strokeCap": "round"}},
{"data": {"name": "shadow"}, "mark": {"type": "rect", "fill": "black"}, "encoding": {"x2": {"field": "d2"}, "y2": {"field": "v2"}}},
{"data": {"name": "box"}, "mark": {"type": "rect", "fill": "white", "stroke": "black", "strokeWidth": 5}, "encoding": {"x2": {"field": "d2"}, "y2": {"field": "v2"}}},
{"data": {"name": "titre"}, "mark": {"type": "text", "font": "Liberation Sans", "fontSize": 32, "fontWeight": "bold", "align": "center", "baseline": "alphabetic", "color": "black"}, "encoding": {"text": {"field": "label"}}}
]
}
